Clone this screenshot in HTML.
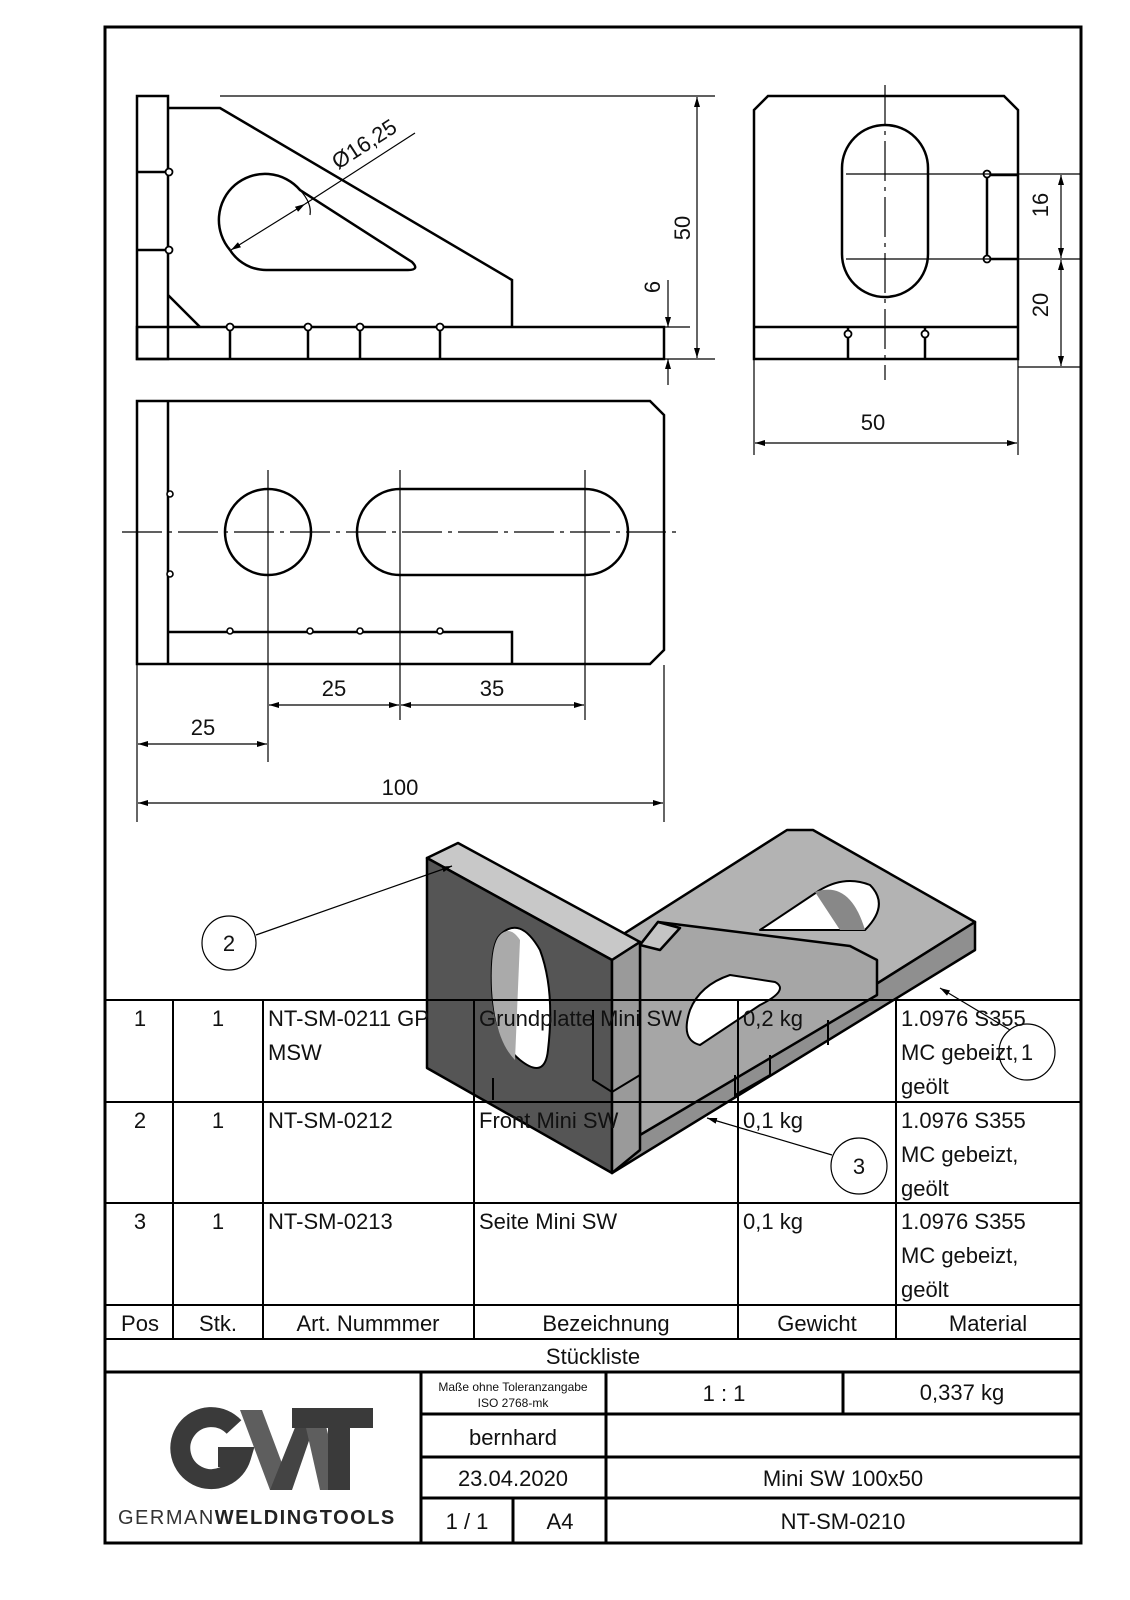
<!DOCTYPE html>
<html><head><meta charset="utf-8"><style>
html,body{margin:0;padding:0;background:#fff}
svg{display:block}
text{font-family:"Liberation Sans","DejaVu Sans",sans-serif;fill:#111}
</style></head><body>
<svg width="1130" height="1600" viewBox="0 0 1130 1600" xmlns="http://www.w3.org/2000/svg">
<defs>
<marker id="a" viewBox="0 0 10 6" refX="10" refY="3" markerWidth="10" markerHeight="6" orient="auto-start-reverse" markerUnits="userSpaceOnUse"><path d="M0,0L10,3L0,6z" fill="#000"/></marker>
</defs>
<rect x="105" y="27" width="976" height="1516" fill="none" stroke="#000" stroke-width="3"/>

<!-- ===== Side view (top-left) ===== -->
<g fill="none" stroke="#000" stroke-width="2.5">
<rect x="137" y="96" width="31" height="263"/>
<rect x="137" y="327" width="527" height="32"/>
<polyline points="168,108 220,108 512,280 512,327"/>
<path d="M230,250 A43,43 0 1 1 300,190 L412,262 Q420,270 408,270 L268,270 A43,43 0 0 1 230,250"/>
<line x1="137" y1="172" x2="168" y2="172"/><line x1="137" y1="250" x2="168" y2="250"/>
<line x1="168" y1="295" x2="200" y2="327"/>
<line x1="230" y1="327" x2="230" y2="359"/><line x1="308" y1="327" x2="308" y2="359"/>
<line x1="360" y1="327" x2="360" y2="359"/><line x1="440" y1="327" x2="440" y2="359"/>
</g>
<g fill="#fff" stroke="#000" stroke-width="1.8">
<circle cx="169" cy="172" r="3.5"/><circle cx="169" cy="250" r="3.5"/>
<circle cx="230" cy="327" r="3.5"/><circle cx="308" cy="327" r="3.5"/><circle cx="360" cy="327" r="3.5"/><circle cx="440" cy="327" r="3.5"/>
</g>
<g stroke="#000" stroke-width="1.2" fill="none">
<line x1="220" y1="96" x2="715" y2="96"/><line x1="664" y1="359" x2="715" y2="359"/>
<line x1="697" y1="97" x2="697" y2="358" marker-start="url(#a)" marker-end="url(#a)"/>
<line x1="668" y1="280" x2="668" y2="327" marker-end="url(#a)"/>
<line x1="668" y1="385" x2="668" y2="359" marker-end="url(#a)"/>
<line x1="664" y1="327" x2="690" y2="327"/>
<line x1="231" y1="250" x2="305" y2="204" marker-start="url(#a)" marker-end="url(#a)"/>
<line x1="305" y1="204" x2="415" y2="133"/>
<path d="M300,190 Q312,203 310,215"/>
</g>
<text x="0" y="0" font-size="22" transform="translate(338,170) rotate(-33)">Ø16,25</text>
<text font-size="22" transform="translate(690,228) rotate(-90)" text-anchor="middle">50</text>
<text font-size="22" transform="translate(660,287) rotate(-90)" text-anchor="middle">6</text>

<!-- ===== Front view (top-right) ===== -->
<g fill="none" stroke="#000" stroke-width="2.5">
<polygon points="768,96 1004,96 1018,110 1018,359 754,359 754,110"/>
<line x1="754" y1="327" x2="1018" y2="327"/>
<path d="M842,168 A43,43 0 0 1 928,168 L928,254 A43,43 0 0 1 842,254 Z"/>
<line x1="848" y1="327" x2="848" y2="359"/><line x1="925" y1="327" x2="925" y2="359"/>
<polyline points="1018,175 987,175 987,259 1018,259"/>
</g>
<g fill="#fff" stroke="#000" stroke-width="1.8">
<circle cx="987" cy="174" r="3.5"/><circle cx="987" cy="259" r="3.5"/>
<circle cx="848" cy="334" r="3.5"/><circle cx="925" cy="334" r="3.5"/>
</g>
<g stroke="#000" stroke-width="1.2" fill="none">
<line x1="885" y1="85" x2="885" y2="380" stroke-dasharray="40,6,4,6"/>
<line x1="846" y1="174" x2="1080" y2="174"/><line x1="846" y1="259" x2="1080" y2="259"/>
<line x1="1018" y1="367" x2="1080" y2="367"/>
<line x1="1061" y1="175" x2="1061" y2="258" marker-start="url(#a)" marker-end="url(#a)"/>
<line x1="1061" y1="260" x2="1061" y2="366" marker-start="url(#a)" marker-end="url(#a)"/>
<line x1="754" y1="360" x2="754" y2="455"/><line x1="1018" y1="360" x2="1018" y2="455"/>
<line x1="755" y1="443" x2="1017" y2="443" marker-start="url(#a)" marker-end="url(#a)"/>
</g>
<text font-size="22" transform="translate(1048,205) rotate(-90)" text-anchor="middle">16</text>
<text font-size="22" transform="translate(1048,305) rotate(-90)" text-anchor="middle">20</text>
<text x="873" y="430" font-size="22" text-anchor="middle">50</text>

<!-- ===== Top view ===== -->
<g fill="none" stroke="#000" stroke-width="2.5">
<polygon points="137,401 650,401 664,415 664,650 650,664 137,664"/>
<line x1="168" y1="401" x2="168" y2="664"/>
<polyline points="168,632 512,632 512,664"/>
<circle cx="268" cy="532" r="43"/>
<path d="M400,489 L585,489 A43,43 0 0 1 585,575 L400,575 A43,43 0 0 1 400,489 Z"/>
</g>
<g fill="#fff" stroke="#000" stroke-width="1.6">
<circle cx="170" cy="494" r="3"/><circle cx="170" cy="574" r="3"/>
<circle cx="230" cy="631" r="3"/><circle cx="310" cy="631" r="3"/><circle cx="360" cy="631" r="3"/><circle cx="440" cy="631" r="3"/>
</g>
<g stroke="#000" stroke-width="1.2" fill="none">
<line x1="122" y1="532" x2="680" y2="532" stroke-dasharray="40,6,4,6"/>
<line x1="268" y1="470" x2="268" y2="762"/>
<line x1="400" y1="470" x2="400" y2="720"/>
<line x1="585" y1="470" x2="585" y2="720"/>
<line x1="137" y1="665" x2="137" y2="822"/><line x1="664" y1="665" x2="664" y2="822"/>
<line x1="269" y1="705" x2="399" y2="705" marker-start="url(#a)" marker-end="url(#a)"/>
<line x1="401" y1="705" x2="584" y2="705" marker-start="url(#a)" marker-end="url(#a)"/>
<line x1="138" y1="744" x2="267" y2="744" marker-start="url(#a)" marker-end="url(#a)"/>
<line x1="138" y1="803" x2="663" y2="803" marker-start="url(#a)" marker-end="url(#a)"/>
</g>
<text x="334" y="696" font-size="22" text-anchor="middle">25</text>
<text x="492" y="696" font-size="22" text-anchor="middle">35</text>
<text x="203" y="735" font-size="22" text-anchor="middle">25</text>
<text x="400" y="795" font-size="22" text-anchor="middle">100</text>

<!-- ===== Isometric ===== -->
<g stroke="#000" stroke-width="2.5" stroke-linejoin="round">
<polygon points="614,940 787,830 813,830 975,922 612,1150" fill="#b3b3b3"/>
<polygon points="612,1150 975,922 975,950 612,1173" fill="#8f8f8f"/>
<path d="M760,930 L820,890 Q845,875 870,885 Q890,905 865,930 L800,930 Z" fill="#fff" stroke-width="2"/>
<path d="M815,892 Q850,880 865,930 L840,930 Z" fill="#888" stroke="none"/>
<polygon points="640,945 658,922 850,946 877,960 877,995 640,1135" fill="#a6a6a6"/>
<polygon points="640,945 658,922 680,928 660,950" fill="#c4c4c4"/>
<path d="M690,1010 Q700,985 730,975 L775,982 Q790,990 760,1005 L700,1045 Q680,1040 690,1010 Z" fill="#fff" stroke-width="2"/>
<polygon points="427,858 458,843 640,942 612,960" fill="#c8c8c8"/>
<path d="M427,858 L612,960 L612,1173 L427,1068 Z" fill="#555"/>
<polygon points="612,960 640,942 640,1150 612,1173" fill="#9a9a9a"/>
<path d="M500,935 Q520,915 540,950 Q555,990 548,1050 Q545,1080 520,1060 Q495,1040 492,990 Q490,945 500,935 Z" fill="#fff" stroke-width="2"/>
<path d="M500,935 Q510,925 520,940 L515,1060 Q495,1040 492,990 Q490,945 500,935 Z" fill="#aaa" stroke="none"/>
</g>
<g stroke="#000" stroke-width="2" fill="none">
<polyline points="593,1010 593,1080 612,1092 640,1075"/>
<polyline points="735,1075 735,1095 770,1075 770,1055"/>
<line x1="828" y1="1020" x2="828" y2="1045"/>
<line x1="493" y1="1078" x2="493" y2="1100"/>
</g>

<!-- balloons -->
<g stroke="#000" stroke-width="1.2" fill="none">
<circle cx="229" cy="943" r="27"/>
<line x1="256" y1="935" x2="452" y2="866" marker-end="url(#a)"/>
<circle cx="1027" cy="1052" r="28"/>
<line x1="1010" y1="1030" x2="940" y2="988" marker-end="url(#a)"/>
<circle cx="859" cy="1166" r="28"/>
<line x1="832" y1="1155" x2="707" y2="1118" marker-end="url(#a)"/>
</g>
<text x="229" y="951" font-size="22" text-anchor="middle">2</text>
<text x="1027" y="1060" font-size="22" text-anchor="middle">1</text>
<text x="859" y="1174" font-size="22" text-anchor="middle">3</text>

<!-- ===== Parts list ===== -->
<g stroke="#000" stroke-width="2" fill="none">
<line x1="105" y1="1000" x2="1081" y2="1000"/>
<line x1="105" y1="1102" x2="1081" y2="1102"/>
<line x1="105" y1="1203" x2="1081" y2="1203"/>
<line x1="105" y1="1305" x2="1081" y2="1305"/>
<line x1="105" y1="1339" x2="1081" y2="1339"/>
<line x1="173" y1="1000" x2="173" y2="1339"/>
<line x1="263" y1="1000" x2="263" y2="1339"/>
<line x1="474" y1="1000" x2="474" y2="1339"/>
<line x1="738" y1="1000" x2="738" y2="1339"/>
<line x1="896" y1="1000" x2="896" y2="1339"/>
</g>
<g font-size="22">
<text x="140" y="1026" text-anchor="middle">1</text><text x="218" y="1026" text-anchor="middle">1</text>
<text x="268" y="1026">NT-SM-0211 GP</text><text x="268" y="1060">MSW</text>
<text x="479" y="1026">Grundplatte Mini SW</text><text x="743" y="1026">0,2 kg</text>
<text x="901" y="1026">1.0976 S355</text><text x="901" y="1060">MC gebeizt,</text><text x="901" y="1094">geölt</text>
<text x="140" y="1128" text-anchor="middle">2</text><text x="218" y="1128" text-anchor="middle">1</text>
<text x="268" y="1128">NT-SM-0212</text><text x="479" y="1128">Front Mini SW</text><text x="743" y="1128">0,1 kg</text>
<text x="901" y="1128">1.0976 S355</text><text x="901" y="1162">MC gebeizt,</text><text x="901" y="1196">geölt</text>
<text x="140" y="1229" text-anchor="middle">3</text><text x="218" y="1229" text-anchor="middle">1</text>
<text x="268" y="1229">NT-SM-0213</text><text x="479" y="1229">Seite Mini SW</text><text x="743" y="1229">0,1 kg</text>
<text x="901" y="1229">1.0976 S355</text><text x="901" y="1263">MC gebeizt,</text><text x="901" y="1297">geölt</text>
<text x="140" y="1331" text-anchor="middle">Pos</text><text x="218" y="1331" text-anchor="middle">Stk.</text>
<text x="368" y="1331" text-anchor="middle">Art. Nummmer</text><text x="606" y="1331" text-anchor="middle">Bezeichnung</text>
<text x="817" y="1331" text-anchor="middle">Gewicht</text><text x="988" y="1331" text-anchor="middle">Material</text>
<text x="593" y="1364" text-anchor="middle">Stückliste</text>
</g>

<!-- ===== Title block ===== -->
<g stroke="#000" stroke-width="3" fill="none">
<line x1="105" y1="1372" x2="1081" y2="1372"/>
<line x1="421" y1="1372" x2="421" y2="1543"/>
<line x1="606" y1="1372" x2="606" y2="1543"/>
<line x1="843" y1="1372" x2="843" y2="1414"/>
<line x1="421" y1="1414" x2="1081" y2="1414"/>
<line x1="421" y1="1457" x2="1081" y2="1457"/>
<line x1="421" y1="1498" x2="1081" y2="1498"/>
<line x1="513" y1="1498" x2="513" y2="1543"/>
</g>
<text x="513" y="1391" font-size="12" text-anchor="middle">Maße ohne Toleranzangabe</text>
<text x="513" y="1407" font-size="12" text-anchor="middle">ISO 2768-mk</text>
<text x="724" y="1401" font-size="22" text-anchor="middle">1 : 1</text>
<text x="962" y="1400" font-size="22" text-anchor="middle">0,337 kg</text>
<text x="513" y="1445" font-size="22" text-anchor="middle">bernhard</text>
<text x="513" y="1486" font-size="22" text-anchor="middle">23.04.2020</text>
<text x="843" y="1486" font-size="22" text-anchor="middle">Mini SW 100x50</text>
<text x="467" y="1529" font-size="22" text-anchor="middle">1 / 1</text>
<text x="560" y="1529" font-size="22" text-anchor="middle">A4</text>
<text x="843" y="1529" font-size="22" text-anchor="middle">NT-SM-0210</text>
<!-- logo -->
<path d="M234,1427 A31,31 0 1 0 241,1457 L218,1457" fill="none" stroke="#3a3a3a" stroke-width="20"/>
<polygon points="240,1410 262,1410 292,1490 270,1490" fill="#5e5e5e"/>
<polygon points="270,1490 292,1490 312,1432 302,1410" fill="#444"/>
<polygon points="302,1410 322,1410 342,1490 320,1490" fill="#5e5e5e"/>
<polygon points="292,1408 373,1408 373,1428 350,1428 350,1490 328,1490 328,1428 292,1428" fill="#3a3a3a"/>
<text x="118" y="1524" font-size="20" letter-spacing="1.5" style="fill:#333">GERMAN<tspan font-weight="bold" style="fill:#222">WELDINGTOOLS</tspan></text>
</svg>
</body></html>
